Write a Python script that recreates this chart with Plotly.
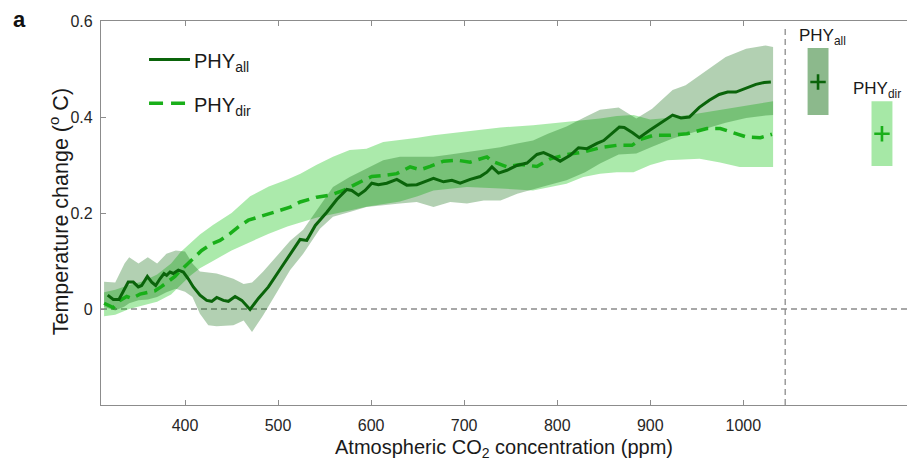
import plotly.graph_objects as go

# ---- PHY_all: mean response and spread ----
co2_all = [316.9, 322.9, 329.0, 334.7, 339.0, 344.4, 349.8, 353.4, 359.5, 364.2, 368.5, 373.1,
           377.4, 380.3, 383.9, 387.4, 392.8, 398.2, 403.5, 408.9, 416.1, 423.3, 428.7, 434.1,
           441.2, 446.6, 453.8, 461.0, 469.9, 478.8, 489.6, 504.0, 518.3, 523.7, 530.9, 540.0,
           552.6, 563.1, 573.9, 579.2, 586.4, 593.5, 600.7, 607.8, 616.8, 627.6, 638.3, 649.1,
           659.9, 667.0, 677.8, 686.8, 695.7, 706.5, 717.2, 724.4, 729.8, 736.9, 746.0, 756.7,
           767.5, 778.2, 785.3, 794.3, 803.2, 814.0, 822.9, 832.0, 842.7, 849.9, 866.7, 872.0,
           881.0, 888.2, 899.0, 913.3, 924.0, 933.0, 942.0, 952.7, 963.4, 974.0, 983.1, 992.0,
           1002.8, 1013.5, 1022.4, 1029.6]
phy_all = [0.029, 0.020, 0.020, 0.040, 0.056, 0.056, 0.046, 0.049, 0.068, 0.056, 0.049, 0.063,
           0.074, 0.070, 0.077, 0.074, 0.081, 0.077, 0.063, 0.046, 0.029, 0.018, 0.016, 0.024,
           0.018, 0.016, 0.026, 0.018, -0.001, 0.022, 0.046, 0.088, 0.129, 0.145, 0.143, 0.174,
           0.202, 0.228, 0.249, 0.247, 0.237, 0.247, 0.262, 0.259, 0.262, 0.270, 0.258, 0.259,
           0.267, 0.272, 0.265, 0.268, 0.262, 0.270, 0.276, 0.285, 0.296, 0.283, 0.289, 0.299,
           0.304, 0.322, 0.326, 0.318, 0.308, 0.320, 0.336, 0.334, 0.345, 0.351, 0.379, 0.378,
           0.367, 0.357, 0.372, 0.390, 0.404, 0.398, 0.400, 0.420, 0.435, 0.447, 0.452, 0.452,
           0.460, 0.468, 0.472, 0.473]

co2_band_all = [313, 325, 335, 340, 350, 360, 370, 380, 390, 400, 408, 416, 425, 434, 441, 452,
                463, 472, 484, 498, 513, 527, 545, 559, 577, 595, 613, 631, 649, 667, 685, 703,
                721, 739, 757, 774, 790, 810, 830, 846, 866, 885, 902, 924, 938, 960, 981, 1003,
                1024, 1032]
all_hi = [0.057, 0.055, 0.095, 0.108, 0.095, 0.108, 0.095, 0.115, 0.122, 0.120, 0.095, 0.078,
          0.076, 0.074, 0.070, 0.063, 0.052, 0.055, 0.078, 0.110, 0.142, 0.165, 0.215, 0.254,
          0.275, 0.292, 0.310, 0.317, 0.317, 0.317, 0.322, 0.327, 0.332, 0.337, 0.345, 0.351,
          0.365, 0.380, 0.400, 0.415, 0.420, 0.397, 0.417, 0.456, 0.466, 0.497, 0.525, 0.542,
          0.549, 0.546]
all_lo = [0.004, -0.003, 0.005, 0.012, 0.018, 0.020, 0.025, 0.035, 0.042, 0.036, 0.025, -0.010,
          -0.034, -0.036, -0.036, -0.034, -0.024, -0.048, -0.013, 0.032, 0.081, 0.115, 0.167,
          0.192, 0.202, 0.2125, 0.216, 0.220, 0.223, 0.2125, 0.223, 0.220, 0.226, 0.226, 0.240,
          0.250, 0.258, 0.268, 0.285, 0.303, 0.322, 0.324, 0.338, 0.355, 0.362, 0.376, 0.388,
          0.398, 0.403, 0.404]

# ---- PHY_dir: mean response and spread ----
co2_dir = [313.0, 316.9, 322.9, 330.1, 337.3, 342.7, 351.6, 360.6, 367.7, 374.9, 383.9, 389.2,
           394.6, 400.0, 407.2, 417.9, 428.7, 437.6, 448.4, 457.3, 468.1, 480.0, 491.4, 502.0,
           512.9, 523.7, 541.6, 555.9, 570.2, 591.7, 600.7, 616.8, 627.6, 641.9, 652.7, 663.4,
           677.8, 692.1, 706.5, 724.4, 729.8, 746.0, 760.2, 778.2, 792.5, 810.4, 828.3, 846.2,
           864.2, 880.3, 889.2, 903.6, 921.5, 939.4, 960.9, 975.3, 989.6, 1003.9, 1018.3, 1030.8]
phy_dir = [0.012, 0.008, 0.003, 0.018, 0.026, 0.022, 0.031, 0.035, 0.038, 0.047, 0.060, 0.068,
           0.079, 0.089, 0.103, 0.122, 0.136, 0.143, 0.157, 0.171, 0.185, 0.192, 0.199, 0.205,
           0.212, 0.223, 0.233, 0.237, 0.247, 0.268, 0.276, 0.279, 0.282, 0.296, 0.290, 0.297,
           0.308, 0.310, 0.306, 0.317, 0.308, 0.296, 0.301, 0.297, 0.313, 0.322, 0.327, 0.336,
           0.341, 0.341, 0.353, 0.362, 0.362, 0.365, 0.376, 0.376, 0.367, 0.358, 0.357, 0.364]

co2_band_dir = [313, 325, 340, 355, 370, 385, 395, 405, 416, 430, 450, 470, 490, 510, 524, 541,
                559, 577, 595, 613, 631, 650, 667, 703, 739, 774, 810, 828, 846, 864, 882, 900,
                918, 953, 975, 996, 1032]
dir_hi = [0.035, 0.040, 0.050, 0.058, 0.072, 0.095, 0.118, 0.135, 0.155, 0.175, 0.200, 0.235,
          0.255, 0.270, 0.282, 0.300, 0.317, 0.331, 0.334, 0.348, 0.352, 0.357, 0.362, 0.370,
          0.378, 0.383, 0.390, 0.393, 0.397, 0.402, 0.404, 0.395, 0.398, 0.408, 0.415, 0.422,
          0.433]
dir_lo = [-0.015, -0.012, 0.000, 0.008, 0.015, 0.030, 0.048, 0.068, 0.085, 0.100, 0.122, 0.140,
          0.157, 0.172, 0.180, 0.190, 0.198, 0.205, 0.213, 0.218, 0.224, 0.235, 0.247, 0.254,
          0.251, 0.247, 0.261, 0.275, 0.282, 0.285, 0.285, 0.300, 0.310, 0.313, 0.305, 0.296,
          0.296]

# ---- summary bars (mean and range) ----
summary_names = ["PHY<sub>all</sub>", "PHY<sub>dir</sub>"]
summary_x = [1080.3, 1149.0]
summary_mean = [0.473, 0.365]
summary_lo = [0.404, 0.298]
summary_hi = [0.544, 0.433]
summary_label_x = [1057.7, 1115.7]

x_ticks = [400, 500, 600, 700, 800, 900, 1000]
y_ticks = [0, 0.2, 0.4, 0.6]
y_tick_text = ["0", "0.2", "0.4", "0.6"]

DARK = "rgb(10,100,10)"
BRIGHT = "rgb(25,175,25)"
FONT = "Liberation Sans, Arial, sans-serif"

fig = go.Figure()

# spread envelopes
fig.add_trace(go.Scatter(
    x=co2_band_dir + co2_band_dir[::-1], y=dir_hi + dir_lo[::-1],
    fill="toself", fillcolor="rgba(0,190,0,0.33)", line=dict(width=0),
    mode="lines", hoverinfo="skip", showlegend=False))
fig.add_trace(go.Scatter(
    x=co2_band_all + co2_band_all[::-1], y=all_hi + all_lo[::-1],
    fill="toself", fillcolor="rgba(0,100,0,0.30)", line=dict(width=0),
    mode="lines", hoverinfo="skip", showlegend=False))

# mean curves
fig.add_trace(go.Scatter(x=co2_dir, y=phy_dir, mode="lines",
                         line=dict(color=BRIGHT, width=3.5, dash="12px,7px"),
                         showlegend=False))
fig.add_trace(go.Scatter(x=co2_all, y=phy_all, mode="lines",
                         line=dict(color=DARK, width=3), showlegend=False))

# summary range bars with mean markers
bar_heights = [h - l for h, l in zip(summary_hi, summary_lo)]
fig.add_trace(go.Bar(x=summary_x, y=bar_heights, base=summary_lo, width=22.5,
                     marker=dict(color=["rgba(0,100,0,0.45)", "rgba(0,190,0,0.35)"],
                                 line=dict(width=0)),
                     showlegend=False, hoverinfo="skip"))
fig.add_trace(go.Scatter(x=summary_x, y=summary_mean, mode="markers",
                         marker=dict(symbol="cross-thin", size=11,
                                     line=dict(width=2.6, color=[DARK, BRIGHT])),
                         showlegend=False))

# labels above the summary bars
for name, xv, top in zip(summary_names, summary_label_x, summary_hi):
    fig.add_annotation(x=xv, y=top, xref="x", yref="y", text=name,
                       showarrow=False, xanchor="left", yanchor="bottom", yshift=-2,
                       font=dict(family=FONT, size=17, color="#1a1a1a"))

# reference lines
grey_dash = dict(color="rgb(140,140,140)", width=1.3, dash="6px,4px")
fig.add_shape(type="line", xref="paper", yref="y", x0=0, x1=1, y0=0, y1=0, line=grey_dash,
              layer="below")
fig.add_shape(type="line", xref="x", yref="paper", x0=1045, x1=1045, y0=0, y1=0.985,
              line=grey_dash, layer="below")

# legend
leg_y = [0.8995, 0.7857]
leg_names = ["PHY<sub>all</sub>", "PHY<sub>dir</sub>"]
leg_lines = [dict(color=DARK, width=3), dict(color=BRIGHT, width=3.5, dash="14px,8px")]
for yy, nm, ln in zip(leg_y, leg_names, leg_lines):
    fig.add_shape(type="line", xref="paper", yref="paper", x0=0.0596, x1=0.1104,
                  y0=yy, y1=yy, line=ln)
    fig.add_annotation(x=0.1129, y=yy, xref="paper", yref="paper", text=nm,
                       showarrow=False, xanchor="left", yanchor="middle", yshift=-3,
                       font=dict(family=FONT, size=20, color="#1a1a1a"))

# panel letter
fig.add_annotation(x=-0.1017, y=1.004, xref="paper", yref="paper", text="<b>a</b>",
                   showarrow=False, xanchor="center", yanchor="middle",
                   font=dict(family=FONT, size=22, color="#111111"))

# vertical axis title, placed close to the tick labels
fig.add_annotation(x=-0.052, y=0.502, xref="paper", yref="paper",
                   text="Temperature change (<sup>o</sup> C)", textangle=-90,
                   showarrow=False, xanchor="center", yanchor="middle",
                   font=dict(family=FONT, size=21.5, color="#1a1a1a"))

axis_common = dict(showline=True, linecolor="rgb(140,140,140)", linewidth=1.3,
                   ticks="inside", ticklen=5, tickcolor="rgb(140,140,140)", tickwidth=1.2,
                   showgrid=False, zeroline=False,
                   tickfont=dict(family=FONT, size=16, color="#262626"))

fig.update_layout(
    width=907, height=470,
    margin=dict(l=101, r=0, t=21, b=65),
    paper_bgcolor="white", plot_bgcolor="white",
    barmode="overlay",
    xaxis=dict(range=[309.7, 1175.9], tickvals=x_ticks, mirror="ticks",
               ticklabelstandoff=6,
               title=dict(text="Atmospheric CO<sub>2</sub> concentration (ppm)",
                          font=dict(family=FONT, size=20, color="#1a1a1a"), standoff=6),
               **axis_common),
    yaxis=dict(range=[-0.2, 0.6], tickvals=y_ticks, ticktext=y_tick_text, mirror=False,
               ticklabelstandoff=4, **axis_common),
)

fig.write_html("out.html")
